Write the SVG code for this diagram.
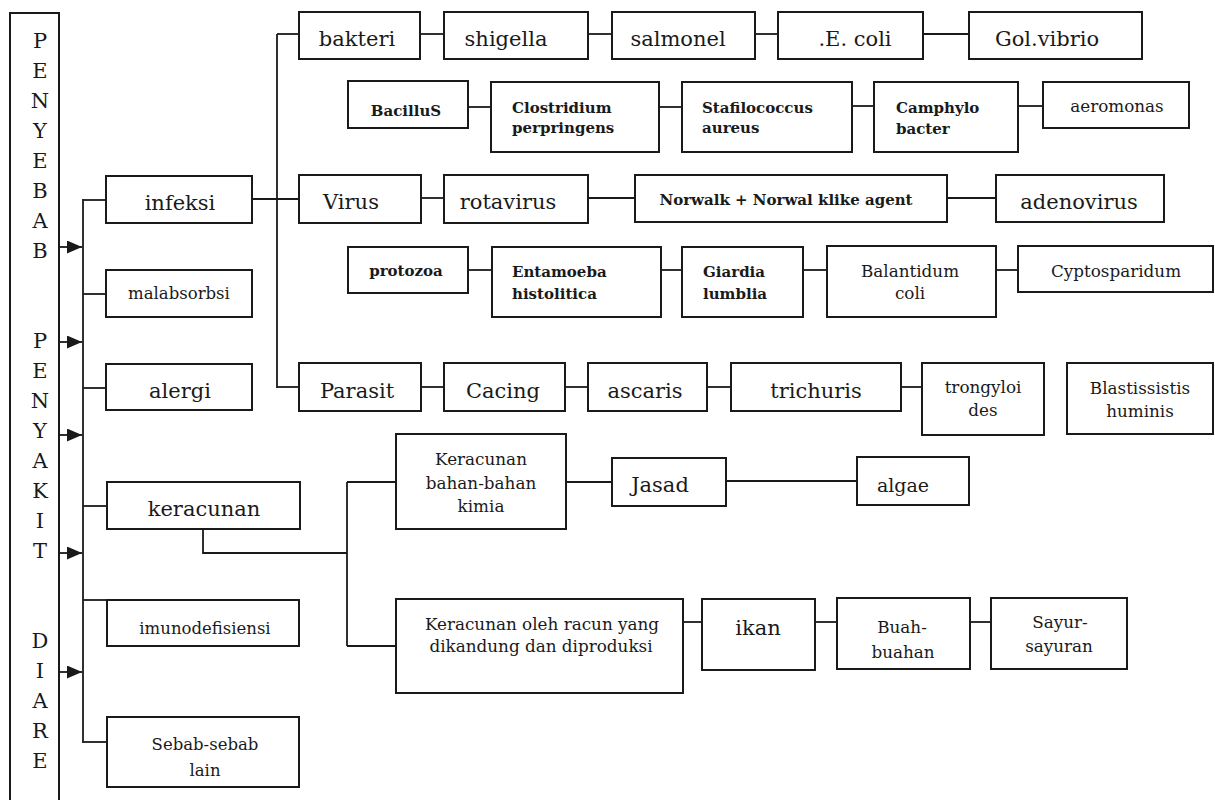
<svg xmlns="http://www.w3.org/2000/svg" width="1215" height="800" viewBox="0 0 1215 800">
<defs>
<marker id="ah" markerWidth="15" markerHeight="13" refX="15" refY="6.5" orient="auto" markerUnits="userSpaceOnUse">
<path d="M0,0 L15,6.5 L0,13 z" fill="#1a1a1a"/>
</marker>
<style>
rect{fill:#fff;stroke:#1a1a1a;stroke-width:2}
.c line,.c polyline{stroke:#1a1a1a;stroke-width:1.8;fill:none}
text{font-family:"DejaVu Serif","Liberation Serif",serif;fill:#1a1a1a;text-anchor:middle}
.L{font-size:21px}
.M{font-size:16.5px}
.s{font-size:16.8px}
.b{font-size:15px;font-weight:bold}
.l{text-anchor:start}
.v{font-size:21px}
</style>
</defs>
<rect width="1215" height="800" style="fill:#fff;stroke:none"/>

<g id="root">
<rect x="10" y="13" width="49" height="810"/>
<text class="v" x="40" y="48">P</text>
<text class="v" x="40" y="78">E</text>
<text class="v" x="40" y="108">N</text>
<text class="v" x="40" y="138">Y</text>
<text class="v" x="40" y="168">E</text>
<text class="v" x="40" y="198">B</text>
<text class="v" x="40" y="228">A</text>
<text class="v" x="40" y="258">B</text>
<text class="v" x="40" y="348">P</text>
<text class="v" x="40" y="378">E</text>
<text class="v" x="40" y="408">N</text>
<text class="v" x="40" y="438">Y</text>
<text class="v" x="40" y="468">A</text>
<text class="v" x="40" y="498">K</text>
<text class="v" x="40" y="528">I</text>
<text class="v" x="40" y="558">T</text>
<text class="v" x="40" y="648">D</text>
<text class="v" x="40" y="678">I</text>
<text class="v" x="40" y="708">A</text>
<text class="v" x="40" y="738">R</text>
<text class="v" x="40" y="768">E</text>
</g>

<g class="c" id="connectors">
<line x1="59" y1="247" x2="82" y2="247" marker-end="url(#ah)"/>
<line x1="59" y1="342" x2="82" y2="342" marker-end="url(#ah)"/>
<line x1="59" y1="435" x2="82" y2="435" marker-end="url(#ah)"/>
<line x1="59" y1="553" x2="82" y2="553" marker-end="url(#ah)"/>
<line x1="59" y1="672" x2="82" y2="672" marker-end="url(#ah)"/>
<line x1="83" y1="199" x2="83" y2="743"/>
<line x1="83" y1="200" x2="106" y2="200"/>
<line x1="83" y1="294" x2="106" y2="294"/>
<line x1="83" y1="388" x2="106" y2="388"/>
<line x1="83" y1="506" x2="107" y2="506"/>
<line x1="83" y1="600" x2="107" y2="600"/>
<line x1="83" y1="742" x2="107" y2="742"/>
<line x1="252" y1="199" x2="299" y2="199"/>
<line x1="277" y1="34" x2="277" y2="388"/>
<line x1="277" y1="34" x2="299" y2="34"/>
<line x1="277" y1="387" x2="299" y2="387"/>
<line x1="420" y1="34" x2="444" y2="34"/>
<line x1="588" y1="34" x2="612" y2="34"/>
<line x1="755" y1="34" x2="778" y2="34"/>
<line x1="923" y1="34" x2="969" y2="34"/>
<line x1="468" y1="107" x2="491" y2="107"/>
<line x1="659" y1="107" x2="682" y2="107"/>
<line x1="852" y1="106" x2="874" y2="106"/>
<line x1="1018" y1="106" x2="1043" y2="106"/>
<line x1="421" y1="198" x2="444" y2="198"/>
<line x1="588" y1="198" x2="635" y2="198"/>
<line x1="947" y1="198" x2="996" y2="198"/>
<line x1="468" y1="270" x2="492" y2="270"/>
<line x1="661" y1="270" x2="682" y2="270"/>
<line x1="803" y1="270" x2="827" y2="270"/>
<line x1="996" y1="270" x2="1018" y2="270"/>
<line x1="421" y1="387" x2="444" y2="387"/>
<line x1="565" y1="387" x2="588" y2="387"/>
<line x1="707" y1="387" x2="731" y2="387"/>
<line x1="901" y1="387" x2="922" y2="387"/>
<polyline points="203,529 203,553 347,553"/>
<line x1="347" y1="482" x2="347" y2="646"/>
<line x1="347" y1="482" x2="396" y2="482"/>
<line x1="347" y1="646" x2="396" y2="646"/>
<line x1="566" y1="482" x2="612" y2="482"/>
<line x1="726" y1="481" x2="857" y2="481"/>
<line x1="683" y1="622" x2="702" y2="622"/>
<line x1="815" y1="622" x2="837" y2="622"/>
<line x1="970" y1="622" x2="991" y2="622"/>
</g>

<g id="infeksi"><rect x="106" y="176" width="146" height="47"/><text class="L" x="180" y="210">infeksi</text></g>
<g id="malabsorbsi"><rect x="106" y="270" width="146" height="47"/><text class="M" x="179" y="299">malabsorbsi</text></g>
<g id="alergi"><rect x="106" y="364" width="146" height="46"/><text class="L" x="180" y="398">alergi</text></g>
<g id="keracunan"><rect x="107" y="482" width="193" height="47"/><text class="L" x="204" y="516">keracunan</text></g>
<g id="imunodefisiensi"><rect x="107" y="600" width="192" height="46"/><text class="M" x="205" y="634">imunodefisiensi</text></g>
<g id="sebab"><rect x="107" y="717" width="192" height="70"/><text class="M" x="205" y="750">Sebab-sebab</text><text class="M" x="205" y="776">lain</text></g>

<g id="bakteri"><rect x="299" y="12" width="121" height="47"/><text class="L" x="357" y="46">bakteri</text></g>
<g id="shigella"><rect x="444" y="12" width="144" height="47"/><text class="L" x="506" y="46">shigella</text></g>
<g id="salmonel"><rect x="612" y="12" width="143" height="47"/><text class="L" x="678" y="46">salmonel</text></g>
<g id="ecoli"><rect x="778" y="12" width="145" height="47"/><text class="L" x="855" y="46">.E. coli</text></g>
<g id="golvibrio"><rect x="969" y="12" width="173" height="47"/><text class="L" x="1047" y="46">Gol.vibrio</text></g>

<g id="bacillus"><rect x="348" y="81" width="120" height="47"/><text class="b" x="406" y="116">BacilluS</text></g>
<g id="clostridium"><rect x="491" y="82" width="168" height="70"/><text class="b l" x="512" y="113">Clostridium</text><text class="b l" x="512" y="133">perpringens</text></g>
<g id="stafilococcus"><rect x="682" y="82" width="170" height="70"/><text class="b l" x="702" y="113">Stafilococcus</text><text class="b l" x="702" y="133">aureus</text></g>
<g id="camphylo"><rect x="874" y="82" width="144" height="70"/><text class="b l" x="896" y="113">Camphylo</text><text class="b l" x="896" y="134">bacter</text></g>
<g id="aeromonas"><rect x="1043" y="82" width="146" height="46"/><text class="s" x="1117" y="112">aeromonas</text></g>

<g id="virus"><rect x="299" y="175" width="122" height="48"/><text class="L" x="351" y="209">Virus</text></g>
<g id="rotavirus"><rect x="444" y="175" width="144" height="48"/><text class="L" x="508" y="209">rotavirus</text></g>
<g id="norwalk"><rect x="635" y="175" width="312" height="47"/><text class="b" x="786" y="205">Norwalk + Norwal klike agent</text></g>
<g id="adenovirus"><rect x="996" y="175" width="168" height="47"/><text class="L" x="1079" y="209">adenovirus</text></g>

<g id="protozoa"><rect x="348" y="247" width="120" height="46"/><text class="b" x="406" y="276">protozoa</text></g>
<g id="entamoeba"><rect x="492" y="247" width="169" height="70"/><text class="b l" x="512" y="277">Entamoeba</text><text class="b l" x="512" y="299">histolitica</text></g>
<g id="giardia"><rect x="682" y="247" width="121" height="70"/><text class="b l" x="703" y="277">Giardia</text><text class="b l" x="703" y="299">lumblia</text></g>
<g id="balantidum"><rect x="827" y="246" width="169" height="71"/><text class="s" x="910" y="277">Balantidum</text><text class="s" x="910" y="299">coli</text></g>
<g id="cyptosparidum"><rect x="1018" y="246" width="195" height="46"/><text class="s" x="1116" y="277">Cyptosparidum</text></g>

<g id="parasit"><rect x="299" y="363" width="122" height="48"/><text class="L" x="357" y="398">Parasit</text></g>
<g id="cacing"><rect x="444" y="363" width="121" height="48"/><text class="L" x="503" y="398">Cacing</text></g>
<g id="ascaris"><rect x="588" y="363" width="119" height="48"/><text class="L" x="645" y="398">ascaris</text></g>
<g id="tricuris"><rect x="731" y="363" width="170" height="48"/><text class="L" x="816" y="398">trichuris</text></g>
<g id="trongyloides"><rect x="922" y="363" width="122" height="72"/><text class="s" x="983" y="393">trongyloi</text><text class="s" x="983" y="416">des</text></g>
<g id="blastissistis"><rect x="1067" y="363" width="146" height="71"/><text class="s" x="1140" y="394">Blastissistis</text><text class="s" x="1140" y="417">huminis</text></g>

<g id="keracunan-kimia"><rect x="396" y="434" width="170" height="95"/><text class="s" x="481" y="465">Keracunan</text><text class="s" x="481" y="489">bahan-bahan</text><text class="s" x="481" y="512">kimia</text></g>
<g id="jasad"><rect x="612" y="458" width="114" height="48"/><text class="L" x="660" y="492">Jasad</text></g>
<g id="algae"><rect x="857" y="457" width="112" height="48"/><text class="L" x="903" y="492" style="font-size:19px">algae</text></g>
<g id="keracunan-racun"><rect x="396" y="599" width="287" height="94"/><text class="s" x="542" y="630">Keracunan oleh racun yang</text><text class="s" x="541" y="652">dikandung dan diproduksi</text></g>
<g id="ikan"><rect x="702" y="599" width="113" height="71"/><text class="L" x="758" y="635">ikan</text></g>
<g id="buah"><rect x="837" y="598" width="133" height="71"/><text class="s" x="902" y="633">Buah-</text><text class="s" x="903" y="658">buahan</text></g>
<g id="sayur"><rect x="991" y="598" width="136" height="71"/><text class="s" x="1060" y="628">Sayur-</text><text class="s" x="1059" y="652">sayuran</text></g>
</svg>
